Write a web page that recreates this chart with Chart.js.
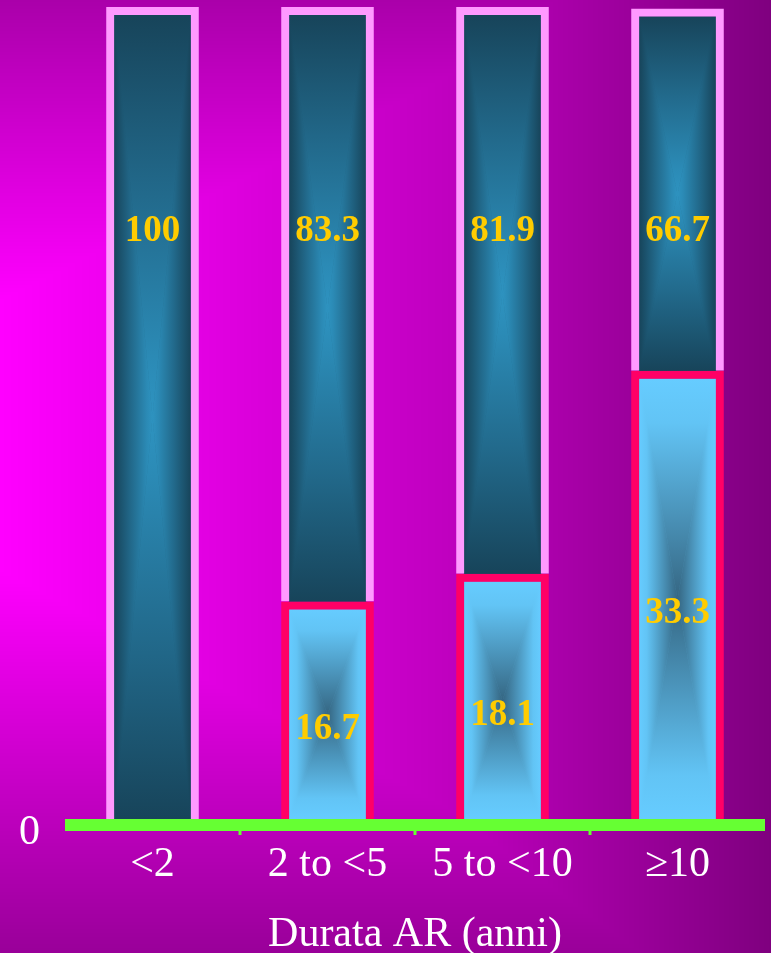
<!DOCTYPE html>
<html><head><meta charset="utf-8">
<script src="https://cdn.jsdelivr.net/npm/chart.js@4.4.0/dist/chart.umd.min.js"></script>
<style>html,body{margin:0;padding:0;background:#c000c0;overflow:hidden}canvas{display:block}</style>
</head><body>
<canvas id="c" width="771" height="953"></canvas>
<script>
// ---- data ----
const categories = ['<2', '2 to <5', '5 to <10', '≥10'];
const lowerValues = [null, 26.8, 30.2, 55.2];   // bar heights as drawn in the picture
const upperValues = [100, 73.2, 69.8, 44.6];
const lowerLabels = [null, '16.7', '18.1', '33.3']; // printed values
const upperLabels = ['100', '83.3', '81.9', '66.7'];
const yTicks = [0];
const axisTitle = 'Durata AR (anni)';

// ---- helpers ----
function boxGrad(ctx, l, t, r, b, stops) {
  const cx = (l + r) / 2, cy = (t + b) / 2;
  ctx.save();
  ctx.fillStyle = stops[0][1];
  ctx.fillRect(l, t, r - l, b - t);
  const parts = [
    [[l, t], [r, t], [cx, t], [cx, cy]],
    [[l, b], [r, b], [cx, b], [cx, cy]],
    [[l, t], [l, b], [l, cy], [cx, cy]],
    [[r, t], [r, b], [r, cy], [cx, cy]]
  ];
  parts.forEach(p => {
    const g = ctx.createLinearGradient(p[2][0], p[2][1], p[3][0], p[3][1]);
    stops.forEach(s => g.addColorStop(s[0], s[1]));
    ctx.beginPath();
    ctx.moveTo(p[0][0], p[0][1]);
    ctx.lineTo(p[1][0], p[1][1]);
    ctx.lineTo(cx, cy);
    ctx.closePath();
    ctx.fillStyle = g;
    ctx.fill();
    ctx.strokeStyle = g;
    ctx.lineWidth = 0.6;
    ctx.stroke();
  });
  ctx.restore();
}

const bgPlugin = {
  id: 'bg',
  beforeDraw(chart) {
    const ctx = chart.ctx;
    const W = chart.canvas.width, H = chart.canvas.height;
    const img = ctx.createImageData(W, H);
    const d = img.data;
    for (let y = 0; y < H; y++) {
      let V;
      if (y < 300) V = 170 + 85 * y / 300;
      else if (y < 570) V = 255;
      else V = 255 - 102 * (y - 570) / (H - 570);
      for (let x = 0; x < W; x++) {
        let Hx = x < 445 ? 255 - 63 * x / 445 : 192 - 65 * (x - 445) / 326;
        const v = Math.min(V, Hx);
        const k = (y * W + x) * 4;
        d[k] = v; d[k + 1] = 0; d[k + 2] = v; d[k + 3] = 255;
      }
    }
    ctx.putImageData(img, 0, 0);
  }
};

const fillPlugin = {
  id: 'boxfill',
  beforeDatasetsDraw(chart) {
    const ctx = chart.ctx;
    chart.data.datasets.forEach((ds, di) => {
      const meta = chart.getDatasetMeta(di);
      meta.data.forEach((el, i) => {
        if (ds.data[i] == null) return;
        const p = el.getProps(['x', 'y', 'base', 'width'], true);
        const bw = ds.borderWidth;
        const l = p.x - p.width / 2 + bw, r = p.x + p.width / 2 - bw;
        const t = Math.min(p.y, p.base) + bw, b = Math.max(p.y, p.base);
        boxGrad(ctx, l, t, r, b, ds.gradStops);
      });
    });
  }
};

const overlayPlugin = {
  id: 'overlay',
  afterDatasetsDraw(chart) {
    const ctx = chart.ctx;
    const xs = chart.scales.x, ys = chart.scales.y, ca = chart.chartArea;
    const y0 = ys.getPixelForValue(0);
    ctx.save();
    ctx.fillStyle = '#66ff33';
    ctx.fillRect(ca.left, y0, ca.right - ca.left, 12);
    for (let i = 1; i < categories.length; i++) {
      const bx = (xs.getPixelForValue(i - 1) + xs.getPixelForValue(i)) / 2;
      ctx.fillRect(bx - 1.5, y0 + 12, 3, 4);
    }
    ctx.fillStyle = '#ffcc00';
    ctx.font = 'bold 37px "Liberation Serif"';
    ctx.textAlign = 'center';
    ctx.textBaseline = 'middle';
    const lowMeta = chart.getDatasetMeta(0), upMeta = chart.getDatasetMeta(1);
    upMeta.data.forEach((el, i) => {
      if (upperLabels[i] == null) return;
      ctx.fillText(upperLabels[i], el.x, ys.getPixelForValue(72.4));
    });
    lowMeta.data.forEach((el, i) => {
      if (lowerLabels[i] == null) return;
      ctx.fillText(lowerLabels[i], el.x, (el.y + el.base) / 2 + 19);
    });
    ctx.restore();
  }
};

new Chart(document.getElementById('c'), {
  type: 'bar',
  data: {
    labels: categories,
    datasets: [
      {
        data: lowerValues,
        backgroundColor: 'rgba(0,0,0,0)',
        borderColor: '#ff0066',
        borderWidth: 8,
        gradStops: [[0, '#66ccff'], [0.2, '#62c4f5'], [1, '#356682']],
        barPercentage: 0.53,
        categoryPercentage: 1
      },
      {
        data: upperValues,
        backgroundColor: 'rgba(0,0,0,0)',
        borderColor: '#ff99ff',
        borderWidth: 8,
        gradStops: [[0, '#17445a'], [0.45, '#226a8c'], [0.85, '#2b8ab5'], [1, '#2e93c0']],
        barPercentage: 0.53,
        categoryPercentage: 1
      }
    ]
  },
  options: {
    responsive: false,
    animation: false,
    devicePixelRatio: 1,
    layout: { padding: { top: 7, right: 6, left: 0, bottom: 0 } },
    plugins: { legend: { display: false }, tooltip: { enabled: false } },
    scales: {
      x: {
        stacked: true,
        grid: { display: false },
        border: { display: false },
        ticks: { color: '#ffffff', font: { family: 'Liberation Serif', size: 42 }, padding: 13, maxRotation: 0, autoSkip: false },
        title: { display: true, text: axisTitle, color: '#ffffff', font: { family: 'Liberation Serif', size: 42, lineHeight: 0.85 }, padding: 0 },
        afterFit(s) { s.height = 134; s.paddingLeft = 0; s.paddingRight = 0; }
      },
      y: {
        stacked: true,
        min: 0, max: 100,
        grid: { display: false },
        border: { display: false },
        afterBuildTicks(s) { s.ticks = yTicks.map(v => ({ value: v })); },
        ticks: { color: '#ffffff', font: { family: 'Liberation Serif', size: 42 }, padding: 17, labelOffset: 14 },
        afterFit(s) { s.width = 65; s.paddingTop = 0; s.paddingBottom = 0; }
      }
    }
  },
  plugins: [bgPlugin, fillPlugin, overlayPlugin]
});
</script>
</body></html>
